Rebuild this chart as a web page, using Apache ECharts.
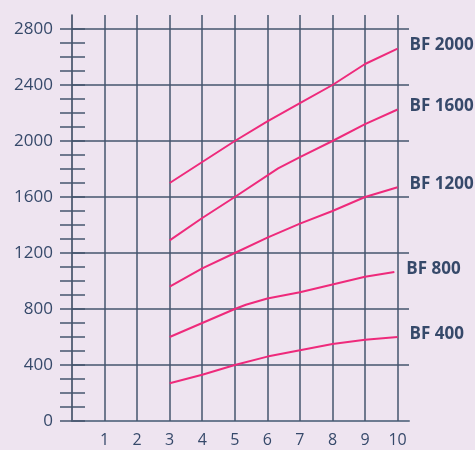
<!DOCTYPE html>
<html>
<head>
<meta charset="utf-8">
<script src="https://cdn.jsdelivr.net/npm/echarts@6/dist/echarts.min.js"></script>
<style>
  html, body { margin: 0; padding: 0; background: #eee4f0; }
  #main { width: 475px; height: 450px; }
</style>
</head>
<body>
<div id="main"></div>
<script>
// x tick labels and y scale
var xTicks = [1, 2, 3, 4, 5, 6, 7, 8, 9, 10];
var yMax = 2800;
var yStep = 400;

// curves (x = ticks, y = value)
var bf2000X = [3, 4, 5, 6, 7, 8, 9, 10];
var bf2000 = [1700, 1850, 2000, 2140, 2270, 2400, 2550, 2660];
var bf1600X = [3, 4, 5, 6.33, 7, 8, 9, 10];
var bf1600 = [1290, 1450, 1600, 1805, 1885, 2000, 2120, 2225];
var bf1200X = [3, 4, 5, 6, 7, 8, 9, 10];
var bf1200 = [960, 1090, 1200, 1310, 1410, 1500, 1600, 1670];
var bf800X = [3, 4, 5, 5.34, 6, 7, 8, 9, 9.9];
var bf800 = [600, 700, 800, 830, 875, 920, 975, 1030, 1065];
var bf400X = [3, 4, 5, 6, 7, 8, 9, 10];
var bf400 = [270, 330, 400, 460, 505, 550, 580, 600];

var names = ['BF 2000', 'BF 1600', 'BF 1200', 'BF 800', 'BF 400'];
var xs = [bf2000X, bf1600X, bf1200X, bf800X, bf400X];
var ys = [bf2000, bf1600, bf1200, bf800, bf400];

var textColor = '#36496a';
var gridColor = '#45566e';
var pink = '#ee2a7b';

var myChart = echarts.init(document.getElementById('main'));

function pairs(x, y) {
  var out = [];
  for (var i = 0; i < x.length; i++) out.push([x[i], y[i]]);
  return out;
}

var series = names.map(function (n, i) {
  return {
    name: n,
    type: 'line',
    xAxisIndex: 0,
    yAxisIndex: 0,
    data: pairs(xs[i], ys[i]),
    symbol: 'none',
    z: 5,
    lineStyle: { color: pink, width: 2 },
    endLabel: {
      show: true,
      formatter: '{a}',
      color: textColor,
      fontFamily: 'Open Sans',
      fontWeight: 'bold',
      fontSize: 17,
      distance: 12,
      offset: [0, -3]
    }
  };
});

// vertical grid lines, taller than the value range
series.push({
  type: 'line',
  xAxisIndex: 1,
  yAxisIndex: 1,
  data: [],
  z: 1,
  markLine: {
    silent: true,
    symbol: 'none',
    label: { show: false },
    lineStyle: { color: gridColor, width: 1.5, type: 'solid' },
    data: xTicks.map(function (v) { return { xAxis: v }; })
  }
});

var option = {
  backgroundColor: '#eee4f0',
  animation: false,
  textStyle: { fontFamily: 'Open Sans' },
  grid: [
    { left: 72, right: 66, top: 29, bottom: 29 },
    { left: 72, right: 66, top: 15, bottom: 29 }
  ],
  xAxis: [
    {
      gridIndex: 0,
      type: 'value',
      min: 0,
      max: 10.35,
      interval: 1,
      axisLine: { show: true, lineStyle: { color: '#6d7b91', width: 2 } },
      axisTick: { show: false },
      splitLine: { show: false },
      axisLabel: {
        color: textColor,
        fontSize: 16,
        margin: 11,
        formatter: function (v) { return xTicks.indexOf(v) >= 0 ? String(v) : ''; }
      }
    },
    {
      gridIndex: 1,
      type: 'value',
      min: 0,
      max: 10.35,
      show: false
    }
  ],
  yAxis: [
    {
      gridIndex: 0,
      type: 'value',
      min: 0,
      max: yMax,
      interval: yStep,
      offset: -13,
      axisLine: { show: false },
      axisTick: { show: true, length: 25, lineStyle: { color: gridColor, width: 1.5 } },
      minorTick: { show: true, splitNumber: 4, length: 25, lineStyle: { color: gridColor, width: 1.5 } },
      splitLine: { show: true, lineStyle: { color: gridColor, width: 1.5 } },
      axisLabel: {
        color: textColor,
        fontSize: 17,
        margin: 32,
        padding: [0, 0, 6, 0],
        formatter: function (v) { return String(v); }
      }
    },
    {
      gridIndex: 1,
      type: 'value',
      min: 0,
      max: 1,
      axisLine: { show: true, lineStyle: { color: '#2f4158', width: 1.5 } },
      axisTick: { show: false },
      axisLabel: { show: false },
      splitLine: { show: false }
    }
  ],
  series: series
};

myChart.setOption(option);
</script>
</body>
</html>
